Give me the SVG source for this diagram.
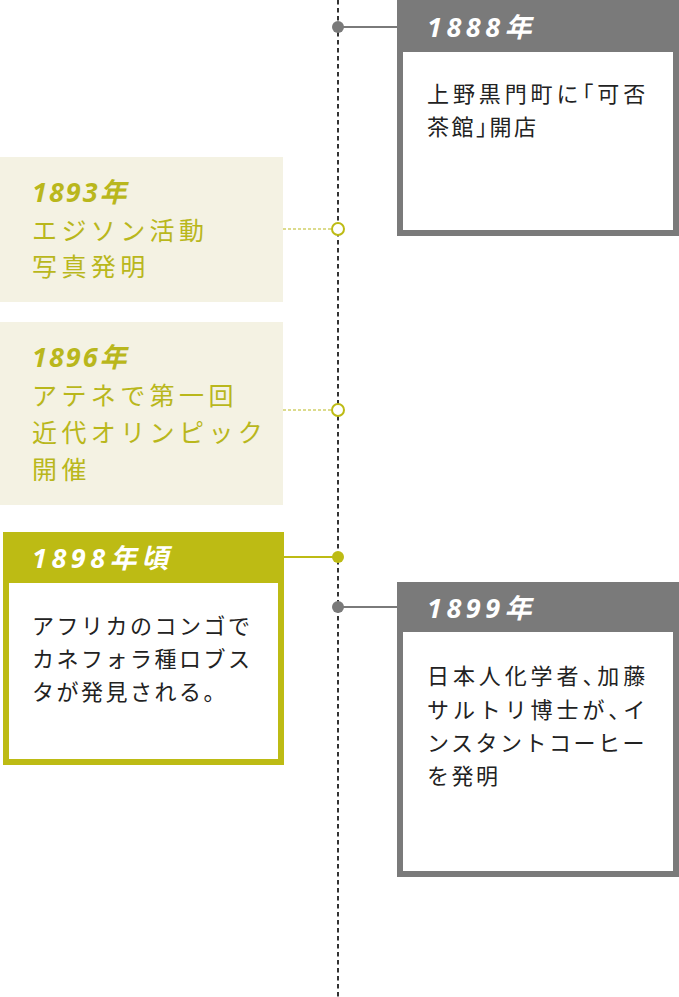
<svg xmlns="http://www.w3.org/2000/svg" width="679" height="997" viewBox="0 0 679 997">
<style>
.hd{font-family:"Noto Sans","Noto Sans CJK JP",sans-serif;font-weight:700;font-style:italic;font-size:27px;}
.hw{fill:#ffffff;letter-spacing:4.5px;}
.ho{fill:#b9b71c;letter-spacing:2px;}
.bd{font-family:"Noto Sans CJK JP","Noto Sans",sans-serif;font-size:22px;fill:#222222;letter-spacing:2.5px;}
.wide{letter-spacing:3.9px;}
.h{font-feature-settings:"halt";}
.bo{font-family:"Noto Sans CJK JP","Noto Sans",sans-serif;font-size:25px;fill:#b9b71c;letter-spacing:4.4px;}
.gray{fill:#ffffff;stroke:#7a7a7a;stroke-width:6;}
.olive{fill:#ffffff;stroke:#bdbb14;stroke-width:6;}
.beige{fill:#f4f2e3;}
</style>
<g id="connectors">
<line x1="338" y1="0" x2="338" y2="997" stroke="#333333" stroke-width="2" stroke-dasharray="4.5 3.5"/>
<line x1="338" y1="27" x2="397" y2="27" stroke="#7a7a7a" stroke-width="2"/>
<line x1="283" y1="229" x2="332" y2="229" stroke="#b9b71c" stroke-width="1" stroke-dasharray="3 2"/>
<line x1="283" y1="410" x2="332" y2="410" stroke="#b9b71c" stroke-width="1" stroke-dasharray="3 2"/>
<line x1="283" y1="557" x2="338" y2="557" stroke="#bdbb14" stroke-width="2"/>
<line x1="338" y1="607" x2="397" y2="607" stroke="#7a7a7a" stroke-width="2"/>
<circle cx="338" cy="27" r="6" fill="#7a7a7a"/>
<circle cx="338" cy="229" r="6" fill="#ffffff" stroke="#bdbb14" stroke-width="2"/>
<circle cx="338" cy="410" r="6" fill="#ffffff" stroke="#bdbb14" stroke-width="2"/>
<circle cx="338" cy="557" r="6" fill="#bdbb14"/>
<circle cx="338" cy="607" r="6" fill="#7a7a7a"/>
</g>
<g id="node-1888">
<rect class="gray" x="400" y="3" width="276" height="230"/>
<rect x="397" y="0" width="282" height="52" fill="#7a7a7a"/>
<text class="hd hw" x="427" y="37">1888年</text>
<text class="bd wide" x="427" y="102">上野黒門町に<tspan class="h">「</tspan>可否</text>
<text class="bd" x="427" y="135">茶館<tspan class="h">」</tspan>開店</text>
</g>
<g id="node-1893">
<rect class="beige" x="0" y="157" width="283" height="145"/>
<text class="hd ho" x="32" y="202">1893年</text>
<text class="bo" x="32" y="240">エジソン活動</text>
<text class="bo" x="32" y="276">写真発明</text>
</g>
<g id="node-1896">
<rect class="beige" x="0" y="322" width="283" height="183"/>
<text class="hd ho" x="32" y="367">1896年</text>
<text class="bo" x="32" y="405">アテネで第一回</text>
<text class="bo" x="32" y="442">近代オリンピック</text>
<text class="bo" x="32" y="479">開催</text>
</g>
<g id="node-1898">
<rect class="olive" x="6" y="535" width="275" height="227"/>
<rect x="3" y="532" width="281" height="51" fill="#bdbb14"/>
<text class="hd hw" x="32" y="568">1898年頃</text>
<text class="bd" x="32" y="634">アフリカのコンゴで</text>
<text class="bd" x="32" y="667">カネフォラ種ロブス</text>
<text class="bd" x="32" y="700">タが発見される。</text>
</g>
<g id="node-1899">
<rect class="gray" x="400" y="585" width="276" height="289"/>
<rect x="397" y="582" width="282" height="50" fill="#7a7a7a"/>
<text class="hd hw" x="427" y="618">1899年</text>
<text class="bd wide" x="427" y="684">日本人化学者<tspan class="h">、</tspan>加藤</text>
<text class="bd wide" x="427" y="718">サルトリ博士が<tspan class="h">、</tspan>イ</text>
<text class="bd" x="427" y="751">ンスタントコーヒー</text>
<text class="bd" x="427" y="784">を発明</text>
</g>
</svg>
